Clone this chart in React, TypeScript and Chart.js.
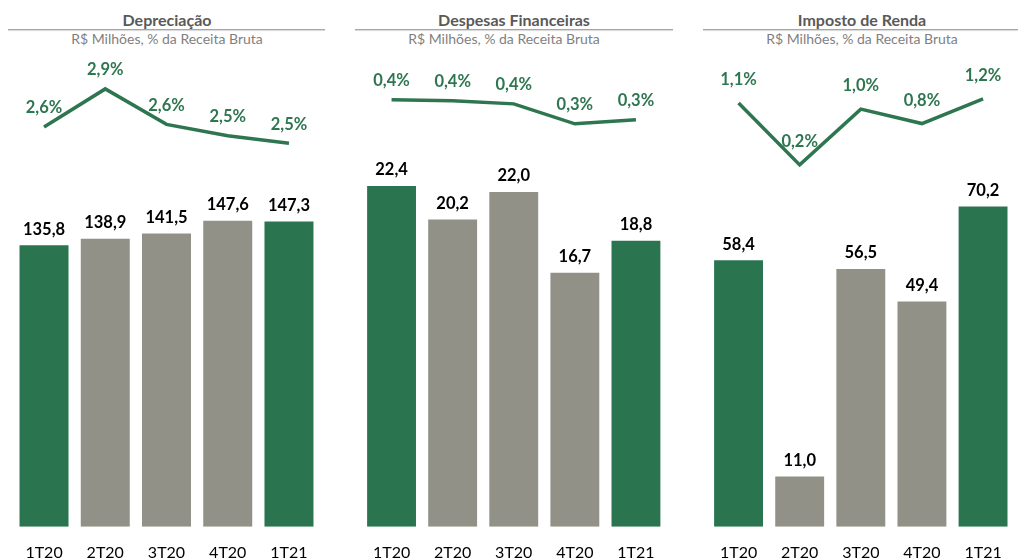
import React, { useEffect, useRef } from 'react';
import { Chart, registerables } from 'chart.js';

Chart.register(...registerables);

const categories = ['1T20', '2T20', '3T20', '4T20', '1T21'];

const depreciacaoValues = [135.8, 138.9, 141.5, 147.6, 147.3];
const depreciacaoPct = [2.6, 2.9, 2.62, 2.53, 2.47];

const financeirasValues = [22.4, 20.2, 22.0, 16.7, 18.8];
const financeirasPct = [0.42, 0.415, 0.4, 0.3, 0.32];

const impostoValues = [58.4, 11.0, 56.5, 49.4, 70.2];
const impostoPct = [1.1, 0.2, 1.01, 0.8, 1.16];

const subtitleText = 'R$ Milhões, % da Receita Bruta';

const GREEN = '#2A7550';
const GRAY = '#919188';
const LINE_GREEN = '#2E7650';
const FONT = 'Lato, "Open Sans", sans-serif';
const barColors = [GREEN, GRAY, GRAY, GRAY, GREEN];

const fmt = (v: number) => v.toFixed(1).replace('.', ',');

const labelPlugin = {
  id: 'valueLabels',
  afterDatasetsDraw(chart: any, _args: any, opts: any) {
    const ctx = chart.ctx;
    const lineOffset = (opts && opts.lineOffset) || 19;
    chart.data.datasets.forEach((ds: any, i: number) => {
      const meta = chart.getDatasetMeta(i);
      const isLine = ds.type === 'line';
      meta.data.forEach((el: any, j: number) => {
        const v = ds.data[j] as number;
        ctx.save();
        ctx.font = `bold 16.5px ${FONT}`;
        ctx.fillStyle = isLine ? LINE_GREEN : '#000000';
        ctx.textAlign = 'center';
        ctx.textBaseline = 'middle';
        ctx.fillText(fmt(v) + (isLine ? '%' : ''), el.x, el.y - (isLine ? lineOffset : 16));
        ctx.restore();
      });
    });
  },
};

type PanelProps = {
  title: string;
  values: number[];
  pcts: number[];
  canvasLeft: number;
  canvasWidth: number;
  padLeft: number;
  padRight: number;
  barMax: number;
  lineMin: number;
  lineMax: number;
  titleCenter: number;
  subCenter: number;
  ruleLeft: number;
  ruleRight: number;
  lineOffset: number;
};

const CANVAS_TOP = 45;
const CANVAS_HEIGHT = 533;

function Panel(p: PanelProps) {
  const ref = useRef<HTMLCanvasElement | null>(null);
  useEffect(() => {
    if (!ref.current) return;
    const chart = new Chart(ref.current, {
      type: 'bar',
      data: {
        labels: categories,
        datasets: [
          {
            type: 'line',
            data: p.pcts,
            yAxisID: 'y1',
            borderColor: LINE_GREEN,
            borderWidth: 3.5,
            pointRadius: 0,
            tension: 0,
            fill: false,
            order: 0,
          } as any,
          {
            type: 'bar',
            data: p.values,
            yAxisID: 'y',
            backgroundColor: barColors,
            borderWidth: 0,
            barPercentage: 0.8,
            categoryPercentage: 1,
            order: 1,
          },
        ],
      },
      options: {
        responsive: false,
        animation: false,
        layout: { padding: { left: p.padLeft, right: p.padRight, top: 5, bottom: 0 } },
        plugins: {
          legend: { display: false },
          tooltip: { enabled: false },
          valueLabels: { lineOffset: p.lineOffset },
        } as any,
        scales: {
          x: {
            grid: { display: false, drawTicks: false },
            border: { display: false },
            ticks: { color: '#000000', font: { family: FONT, size: 16 }, padding: 16 },
          },
          y: { display: false, min: 0, max: p.barMax },
          y1: { display: false, min: p.lineMin, max: p.lineMax },
        },
      },
      plugins: [labelPlugin],
    });
    return () => chart.destroy();
  }, []);

  return (
    <>
      <div
        style={{
          position: 'absolute',
          left: p.titleCenter - 150,
          width: 300,
          top: 11,
          lineHeight: '18px',
          textAlign: 'center',
          fontFamily: FONT,
          fontWeight: 'bold',
          fontSize: 16,
          color: '#595959',
        }}
      >
        {p.title}
      </div>
      <div
        style={{
          position: 'absolute',
          left: p.ruleLeft,
          width: p.ruleRight - p.ruleLeft,
          top: 29,
          height: 1,
          background: '#A6A6A6',
          boxShadow: '0 1px 1px rgba(0,0,0,0.18)',
        }}
      />
      <div
        style={{
          position: 'absolute',
          left: p.subCenter - 150,
          width: 300,
          top: 31,
          lineHeight: '16px',
          textAlign: 'center',
          fontFamily: FONT,
          fontSize: 14,
          color: '#7F7F7F',
        }}
      >
        {subtitleText}
      </div>
      <canvas
        ref={ref}
        width={p.canvasWidth}
        height={CANVAS_HEIGHT}
        style={{
          position: 'absolute',
          left: p.canvasLeft,
          top: CANVAS_TOP,
          width: p.canvasWidth,
          height: CANVAS_HEIGHT,
        }}
      />
    </>
  );
}

export default function App() {
  return (
    <div
      style={{
        position: 'fixed',
        left: 0,
        top: 0,
        width: 1018,
        height: 559,
        overflow: 'hidden',
        background: '#ffffff',
      }}
    >
      <Panel
        title="Depreciação"
        values={depreciacaoValues}
        pcts={depreciacaoPct}
        canvasLeft={0}
        canvasWidth={330}
        padLeft={13.4}
        padRight={10.4}
        barMax={230}
        lineMin={-0.557}
        lineMax={3.207}
        titleCenter={167}
        subCenter={167}
        ruleLeft={8}
        ruleRight={325}
        lineOffset={19}
      />
      <Panel
        title="Despesas Financeiras"
        values={financeirasValues}
        pcts={financeirasPct}
        canvasLeft={340}
        canvasWidth={340}
        padLeft={21}
        padRight={13.5}
        barMax={31.34}
        lineMin={-1.72}
        lineMax={0.67}
        titleCenter={514}
        subCenter={504}
        ruleLeft={355}
        ruleRight={673}
        lineOffset={19}
      />
      <Panel
        title="Imposto de Renda"
        values={impostoValues}
        pcts={impostoPct}
        canvasLeft={680}
        canvasWidth={338}
        padLeft={28}
        padRight={3}
        barMax={104.5}
        lineMin={-5.059}
        lineMax={1.869}
        titleCenter={862}
        subCenter={862}
        ruleLeft={703}
        ruleRight={1018}
        lineOffset={23}
      />
    </div>
  );
}
